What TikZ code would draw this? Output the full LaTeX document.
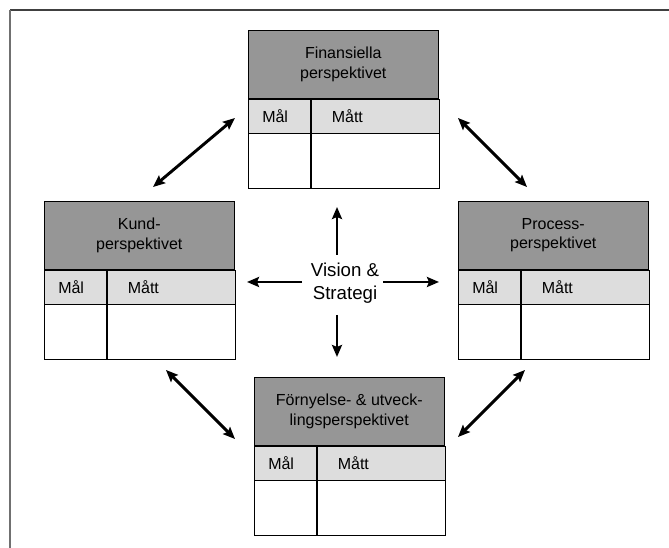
\documentclass[tikz,border=0pt]{standalone}
\usepackage{fontspec}
\setmainfont{Liberation Sans}
\usetikzlibrary{arrows.meta,positioning}

\definecolor{headgray}{RGB}{150,150,150}
\definecolor{rowgray}{RGB}{221,221,221}
\definecolor{topgray}{RGB}{64,64,64}
\definecolor{sidegray}{RGB}{112,112,112}

\tikzset{
  head/.style={draw,fill=headgray,minimum width=142.5pt,minimum height=51pt,inner sep=0pt,
    align=center,anchor=north west,font=\fontsize{12}{14.6}\selectfont},
  cellbox/.style={draw,inner sep=0pt,anchor=north west,font=\fontsize{12}{14.4}\selectfont},
  malcell/.style={cellbox,fill=rowgray,minimum height=25.5pt,text width=25.5pt,inner xsep=10.5pt,align=left},
  mattcell/.style={cellbox,fill=rowgray,minimum height=25.5pt,text width=64.5pt,inner xsep=15.75pt,align=left},
  emptycell/.style={cellbox,minimum height=41.25pt},
  onearrow/.style={line width=2.2pt,-{Stealth[length=9pt,width=7.5pt,inset=1.5pt]}},
  twoarrow/.style={line width=2.2pt,{Stealth[length=9pt,width=7.5pt,inset=1.5pt]}-{Stealth[length=9pt,width=7.5pt,inset=1.5pt]}}
}

\begin{document}
\begin{tikzpicture}[x=0.75pt,y=-0.75pt]
\useasboundingbox (0,0) rectangle (669,548);
% frame
\draw[topgray,line width=0.9pt] (10,10) -- (669,10);
\draw[sidegray,line width=0.9pt] (10,10) -- (10,548);

% the four perspectives
\foreach \nm/\px/\py/\txt in {fin/248/30/{Finansiella\\perspektivet},
    kund/44/201/{Kund-\\perspektivet},
    proc/458/201/{Process-\\perspektivet},
    forn/254/377/{Förnyelse- \& utveck-\\lingsperspektivet}} {
  \node[head] (\nm) at (\px,\py) {\txt};
  \node[malcell] (\nm-mal) at (\nm.south west) {Mål};
  \node[mattcell] (\nm-matt) at (\nm-mal.north east) {Mått};
  \node[emptycell,minimum width=46.5pt] (\nm-a) at (\nm-mal.south west) {};
  \node[emptycell,minimum width=96pt] (\nm-b) at (\nm-matt.south west) {};
}

\node[align=center,font=\fontsize{14}{17.3}\selectfont] (vision) at (345,283) {Vision \&\\Strategi};

\coordinate (U0) at (337,255); \coordinate (U1) at (337,207);
\coordinate (D0) at (337,315); \coordinate (D1) at (337,357);
\coordinate (L0) at (302,282); \coordinate (L1) at (247,282);
\coordinate (R0) at (383,282); \coordinate (R1) at (439,282);
\draw[onearrow] (U0)--(U1); \draw[onearrow] (D0)--(D1);
\draw[onearrow] (L0)--(L1); \draw[onearrow] (R0)--(R1);

\coordinate (KF0) at (153,187); \coordinate (KF1) at (235,118);
\coordinate (FP0) at (458,118); \coordinate (FP1) at (527,187);
\coordinate (KN0) at (166,370); \coordinate (KN1) at (235,439);
\coordinate (PN0) at (525,370); \coordinate (PN1) at (458,437);
\draw[twoarrow] (KF0)--(KF1); \draw[twoarrow] (FP0)--(FP1);
\draw[twoarrow] (KN0)--(KN1); \draw[twoarrow] (PN0)--(PN1);
\end{tikzpicture}
\end{document}
